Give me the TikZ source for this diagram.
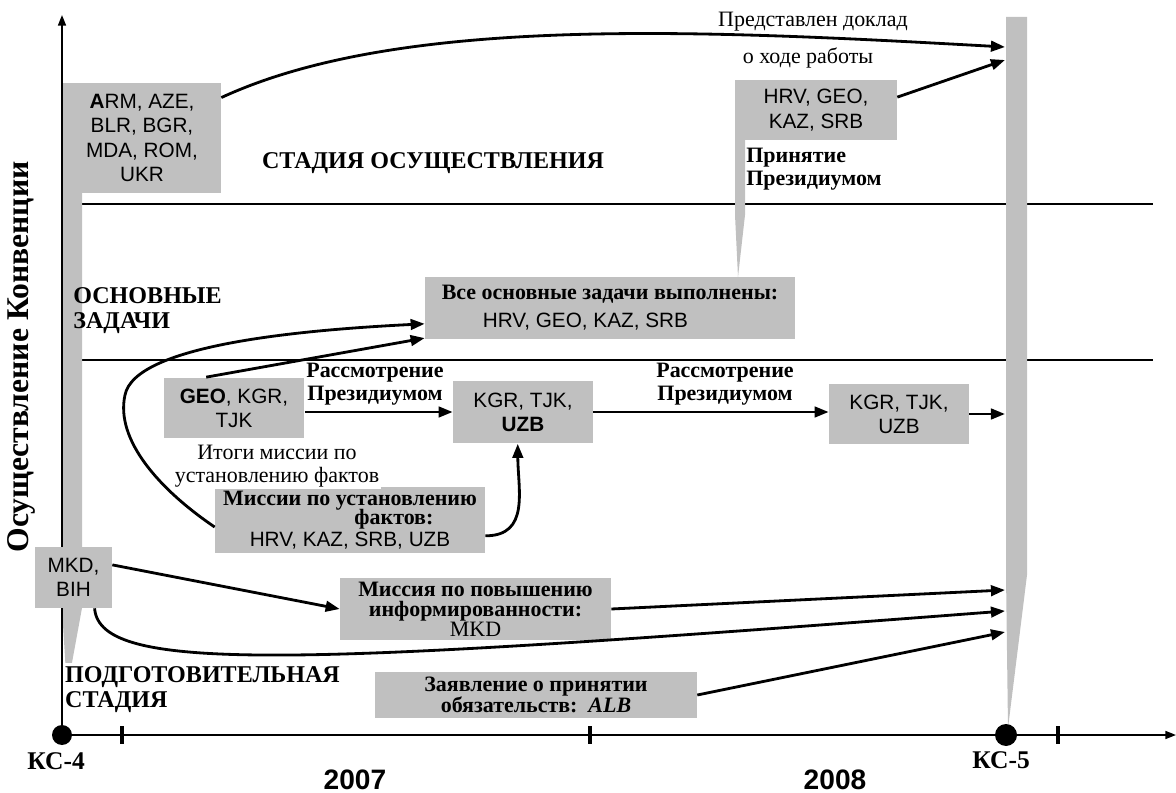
\documentclass[tikz,border=0pt]{standalone}
\usepackage{fontspec}
\setmainfont{Liberation Serif}
\newfontfamily\boxfont{Liberation Sans}
\usetikzlibrary{arrows.meta}
\definecolor{boxgray}{RGB}{192,192,192}
\newcommand{\boxtxt}{\boxfont\fontsize{11.8}{13.8}\selectfont}
\newcommand{\boldtxt}{\rmfamily\bfseries\fontsize{12.5}{13}\selectfont}
\newcommand{\plaintxt}{\rmfamily\mdseries\fontsize{12.5}{13}\selectfont}
\newcommand{\headtxt}{\rmfamily\bfseries\fontsize{13.7}{14.3}\selectfont}
\begin{document}
\begin{tikzpicture}[x=0.02cm,y=-0.02cm,
	every node/.style={inner sep=0pt},
	cbox/.style={fill=boxgray,align=center,font=\boxtxt},
	blab/.style={align=center,font=\boldtxt},
	arr/.style={line width=1.6pt,-{Triangle[length=8pt,width=6pt]}},
	axisline/.style={line width=1pt,-{Triangle[length=6pt,width=4.5pt]}},
	zone/.style={line width=0.8pt}]

	\useasboundingbox (0,0) rectangle (1176,793);

	% stage borders
	\draw[zone] (62,204) -- (1153,204);
	\draw[zone] (62,360) -- (1153,360);

	% grey bars
	\fill[boxgray] (62,190) -- (82,190) -- (82,608) -- (67,690) -- (62,608) -- cycle;
	\fill[boxgray] (1006,17) -- (1027,17) -- (1027,575) -- (1008,728) -- (1006,575) -- cycle;
	\fill[boxgray] (735,120) -- (745,120) -- (745,215) -- (738,277) -- (735,215) -- cycle;

	% axes
	\coordinate (kc4) at (62,735);
	\coordinate (kc5) at (1006,735);
	\coordinate (ytop) at (62,15);
	\coordinate (xend) at (1176,735);
	\draw[axisline] (kc4) -- (ytop);
	\draw[axisline] (kc4) -- (xend);
	\foreach \x in {122,590,1058}
		\draw[line width=2.2pt] (\x,726) -- (\x,744);
	\fill (kc4) circle (0.2cm);
	\fill (kc5) circle (0.22cm);

	% country boxes
	\node[cbox,minimum width=3.16cm,minimum height=2.2cm] (arm) at (142,138) {\textbf{A}RM, AZE,\\BLR, BGR,\\MDA, ROM,\\UKR};
	\node[cbox,minimum width=3.24cm,minimum height=1.2cm] (hrv) at (816,110) {HRV, GEO,\\KAZ, SRB};
	\node[cbox,minimum width=7.4cm,minimum height=1.26cm] (done) at (610,308) {{\boldtxt Все основные задачи выполнены:}\\[2pt]HRV, GEO, KAZ, SRB\hspace*{28pt}};
	\node[cbox,minimum width=2.82cm,minimum height=1.22cm] (geo) at (234,408) {\textbf{GEO}, KGR,\\TJK};
	\node[cbox,minimum width=2.8cm,minimum height=1.26cm] (mid) at (523,412) {KGR, TJK,\\\textbf{UZB}};
	\node[cbox,minimum width=2.8cm,minimum height=1.22cm] (kgr) at (899,414) {KGR, TJK,\\UZB};
	\node[cbox,minimum width=5.4cm,minimum height=1.32cm] (facts) at (350,520) {{\boldtxt Миссии по установлению}\\[-2.5pt]{\boldtxt\hspace*{50pt}фактов:}\\[-1.5pt]HRV, KAZ, SRB, UZB};
	\node[cbox,minimum width=1.54cm,minimum height=1.22cm] (mkd) at (73.5,577.5) {MKD,\\BIH};
	\node[cbox,minimum width=5.42cm,minimum height=1.24cm] (aware) at (475.5,609) {{\boldtxt Миссия по повышению}\\[-2.5pt]{\boldtxt информированности:}\\[-2.5pt]{\plaintxt MKD}};
	\node[cbox,minimum width=6.44cm,minimum height=0.92cm] (alb) at (536,695) {{\boldtxt Заявление о принятии}\\[-1.5pt]{\boldtxt обязательств:\ \ \textit{ALB}}};

	% labels
	\node[font=\plaintxt] (report) at (813,22) {Представлен доклад};
	\node[font=\plaintxt] (report2) at (808,58) {о ходе работы};
	\node[font=\headtxt] (implst) at (433,163) {СТАДИЯ ОСУЩЕСТВЛЕНИЯ};
	\node[align=left,anchor=west,font=\boldtxt] (adopt) at (746,169) {Принятие\\Президиумом};
	\node[align=left,anchor=west,font=\headtxt] (core) at (73,311) {ОСНОВНЫЕ\\ЗАДАЧИ};
	\node[blab] (rev1) at (375,384) {Рассмотрение\\Президиумом};
	\node[blab] (rev2) at (725,384) {Рассмотрение\\Президиумом};
	\node[align=center,font=\plaintxt,fill=white,inner sep=1pt] (result) at (277,466) {Итоги миссии по\\установлению фактов};
	\node[align=left,anchor=west,font=\headtxt,fill=white,inner xsep=0.5pt,inner ysep=2pt] (prep) at (64,690) {ПОДГОТОВИТЕЛЬНАЯ\\СТАДИЯ};
	\node[font=\bfseries\fontsize{14.5}{15}\selectfont] (kc4lab) at (56,761) {КС-4};
	\node[font=\bfseries\fontsize{14.5}{15}\selectfont] (kc5lab) at (1001,760) {КС-5};
	\node[font=\boxfont\bfseries\fontsize{16}{16}\selectfont] (y2007) at (355,780) {2007};
	\node[font=\boxfont\bfseries\fontsize{16}{16}\selectfont] (y2008) at (835,780) {2008};
	\node[rotate=90,font=\bfseries\fontsize{18}{18}\selectfont] (vlab) at (21,357) {Осуществление Конвенции};

	% arrows into KC-5
	\coordinate (kc5-1) at (1005,47);
	\coordinate (kc5-2) at (1005,60);
	\coordinate (kc5-3) at (1005,414);
	\coordinate (kc5-4) at (1005,590);
	\coordinate (kc5-5) at (1005,611);
	\coordinate (kc5-6) at (1005,632);

	\draw[arr] (arm.27) .. controls (400,15) and (700,30) .. (kc5-1);
	\draw[arr] (hrv.9) -- (kc5-2);
	\draw[arr] (geo.132) -- ([yshift=1pt]done.south west);
	\draw[arr] ([yshift=-4pt]facts.west) .. controls (160,490) and (115,440) .. (125,395) .. controls (135,345) and (300,330) .. ([yshift=-9pt]done.west);
	\draw[arr] (geo.east |- mid.west) -- (mid.west);
	\draw[arr] (mid.east) -- (mid.east -| kgr.west);
	\draw[arr] (kgr.east) -- (kc5-3);
	\draw[arr] ([yshift=-9pt]facts.east) .. controls (530,536) and (518,490) .. ([xshift=-3pt]mid.south);
	\draw[arr] (mkd.18) -- (aware.west);
	\draw[arr] (aware.east) -- (kc5-4);
	\draw[arr] ([xshift=12pt]mkd.south) .. controls (100,675) and (300,665) .. (kc5-5);
	\draw[arr] (alb.east) -- (kc5-6);

\end{tikzpicture}
\end{document}
